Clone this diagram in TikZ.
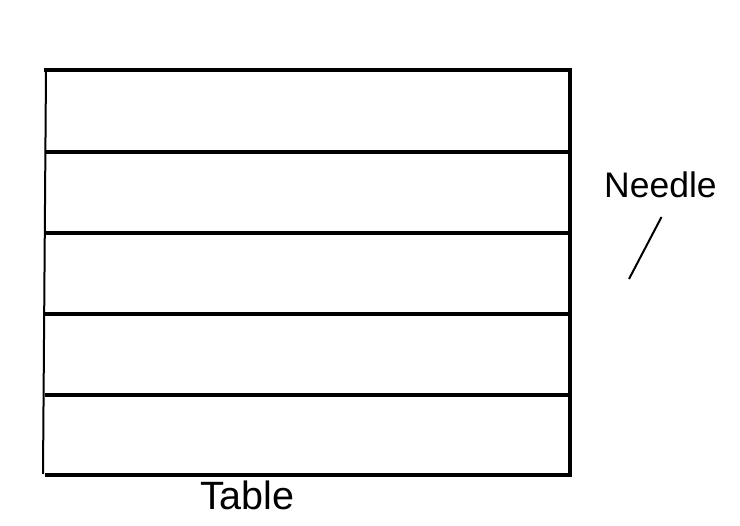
\documentclass[tikz,border=0pt]{standalone}
\usepackage{fontspec}
\setmainfont{Liberation Sans}
\begin{document}
\begin{tikzpicture}[x=1pt,y=-1pt,
  frame/.style={line width=3.5pt,line cap=rect},
  thin frame/.style={line width=2pt},
  lbl/.style={inner sep=0pt,anchor=base west}]
\useasboundingbox (0,0) rectangle (740,526);
% named corners
\coordinate (tl) at (46,70);
\coordinate (tr) at (570,70);
\coordinate (bl) at (43,474);
\coordinate (br) at (570,475);
% frame
\draw[frame] (tl) -- (tr) -- (br);
\draw[frame] (47,475) -- (br);
\draw[thin frame] (tl) -- (bl);
% shelves
\foreach \y in {152,233,314,395}
  \draw[line width=3.2pt] (45,\y) -- (570,\y);
% labels
\node[lbl,font=\fontsize{35.5}{42}\selectfont] (needle) at (604,198) {Needle};
\node[lbl,font=\fontsize{39.5}{46}\selectfont] (table) at (200,510) {Table};
\coordinate (n1) at (661.5,217);
\coordinate (n2) at (629,279);
\draw[line width=2pt] (n1) -- (n2);
\end{tikzpicture}
\end{document}
